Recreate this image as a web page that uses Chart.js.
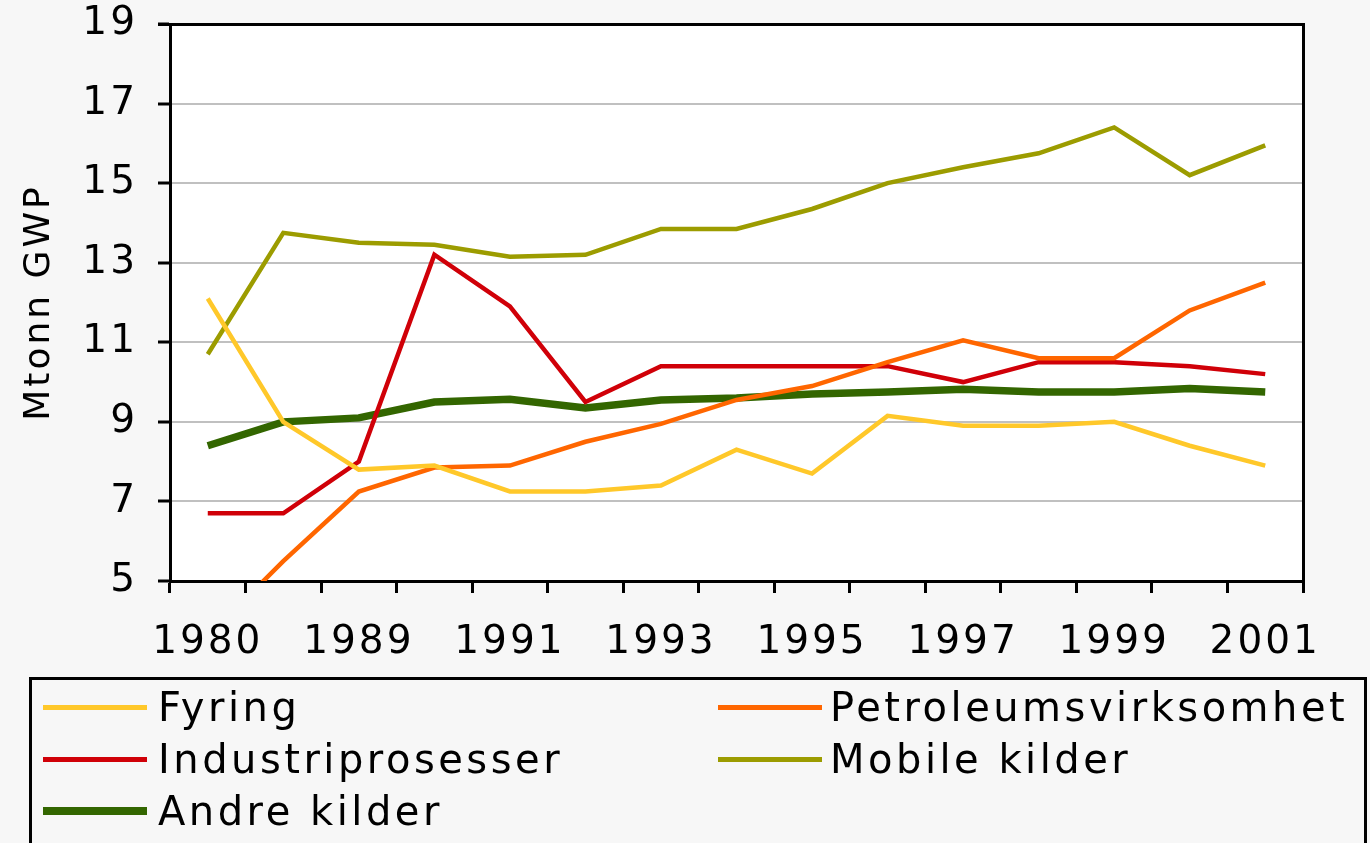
<!DOCTYPE html>
<html>
<head>
<meta charset="utf-8">
<script src="https://cdn.jsdelivr.net/npm/chart.js@4.4.0/dist/chart.umd.min.js"></script>
<style>
html,body{margin:0;padding:0;background:#f7f7f7;width:1370px;height:843px;overflow:hidden;}
#wrap{position:relative;width:1370px;height:843px;}
#c{position:absolute;left:0;top:0;}
#legendBox{position:absolute;left:29px;top:677px;width:1338px;height:200px;border:3px solid #000;box-sizing:border-box;}
.li{position:absolute;height:40px;line-height:40px;font-family:'DejaVu Sans';font-size:40px;letter-spacing:3.5px;color:#000;white-space:nowrap;}
.ls{position:absolute;}
</style>
</head>
<body>
<div id="wrap">
<canvas id="c" width="1370" height="843"></canvas>
<div id="legendBox"></div>
</div>
<script>
// ---- data ----
const years = ['1980','1987','1989','1990','1991','1992','1993','1994','1995','1996','1997','1998','1999','2000','2001'];
const fyring      = [12.1, 9.0, 7.8, 7.9, 7.25, 7.25, 7.4, 8.3, 7.7, 9.15, 8.9, 8.9, 9.0, 8.4, 7.9];
const petroleum   = [3.6, 5.5, 7.25, 7.85, 7.9, 8.5, 8.95, 9.55, 9.9, 10.5, 11.05, 10.6, 10.6, 11.8, 12.5];
const industri    = [6.7, 6.7, 8.0, 13.2, 11.9, 9.5, 10.4, 10.4, 10.4, 10.4, 10.0, 10.5, 10.5, 10.4, 10.2];
const mobile      = [10.7, 13.75, 13.5, 13.45, 13.15, 13.2, 13.85, 13.85, 14.35, 15.0, 15.4, 15.75, 16.4, 15.2, 15.95];
const andre       = [8.4, 9.0, 9.1, 9.5, 9.57, 9.35, 9.55, 9.6, 9.7, 9.75, 9.82, 9.75, 9.75, 9.84, 9.75];
const seriesNames = ['Fyring','Petroleumsvirksomhet','Industriprosesser','Mobile kilder','Andre kilder'];
const yTitle = 'Mtonn GWP';
const yMin = 5, yMax = 19, yStep = 2;

Chart.defaults.font.family = 'DejaVu Sans';
Chart.defaults.color = '#000';

const spacingPlugin = {
  id: 'spacing',
  beforeUpdate(chart){ chart.ctx.letterSpacing = '3px'; },
  beforeDraw(chart){
    const ctx = chart.ctx, a = chart.chartArea;
    ctx.letterSpacing = '3px';
    ctx.save();
    ctx.fillStyle = '#ffffff';
    ctx.fillRect(a.left, a.top, a.right - a.left, a.bottom - a.top);
    ctx.restore();
  },
  afterDraw(chart){
    const ctx = chart.ctx, a = chart.chartArea;
    ctx.save();
    ctx.strokeStyle = '#000';
    ctx.lineWidth = 3;
    ctx.beginPath();
    ctx.moveTo(a.left - 12, a.top + 0.5);
    ctx.lineTo(a.right + 0.5, a.top + 0.5);
    ctx.lineTo(a.right + 0.5, a.bottom);
    ctx.stroke();
    ctx.restore();
  }
};

const colors = ['#FFC82A','#FF6600','#D00008','#9C9C00','#336600'];
const widths = [4.5,4.5,4.5,4.5,7.5];
const values = [fyring, petroleum, industri, mobile, andre];

const chart = new Chart(document.getElementById('c'), {
  type: 'line',
  data: {
    labels: years,
    datasets: values.map((v,i)=>({
      label: seriesNames[i],
      data: v,
      borderColor: colors[i],
      backgroundColor: colors[i],
      borderWidth: widths[i],
      pointRadius: 0,
      tension: 0,
      fill: false
    }))
  },
  options: {
    responsive: false,
    animation: false,
    devicePixelRatio: 1,
    layout: { padding: { left: 0, right: 67, top: 24, bottom: 166 } },
    plugins: { legend: { display: false }, tooltip: { enabled: false } },
    scales: {
      x: {
        offset: true,
        grid: { offset: true, drawOnChartArea: false, drawTicks: true, tickLength: 12, tickColor: '#000', lineWidth: 3, color: '#000' },
        border: { display: true, color: '#000', width: 3 },
        ticks: {
          autoSkip: false, maxRotation: 0, minRotation: 0, padding: 26,
          font: { size: 39 }, color: '#000',
          callback: function(val, idx){ return idx % 2 === 0 ? this.getLabelForValue(val) : ''; }
        },
        afterFit(s){ s.height = 96; s.paddingLeft = 0; s.paddingRight = 0; }
      },
      y: {
        min: yMin, max: yMax,
        grid: { color: '#c0c0c0', lineWidth: 2, tickColor: '#000', tickWidth: 3, tickLength: 12 },
        border: { display: true, color: '#000', width: 3 },
        ticks: { stepSize: yStep, padding: 20, font: { size: 39 }, color: '#000' },
        title: { display: true, text: yTitle, font: { size: 36 }, color: '#000', padding: { top: 18, bottom: 0 } },
        afterFit(s){ s.width = 170; s.paddingTop = 0; s.paddingBottom = 0; }
      }
    }
  },
  plugins: [spacingPlugin]
});

// ---- HTML legend built from the datasets ----
const wrap = document.getElementById('wrap');
const colX = [[43,158],[718,830]];
const rowY = [707,759,811];
chart.data.datasets.forEach((ds,i)=>{
  const col = i % 2, row = Math.floor(i/2);
  const sw = document.createElement('div');
  sw.className = 'ls';
  const h = Math.round(ds.borderWidth + 0.5);
  sw.style.cssText = `left:${colX[col][0]}px;top:${Math.round(rowY[row]-h/2)}px;width:104px;height:${h}px;background:${ds.borderColor};`;
  wrap.appendChild(sw);
  const t = document.createElement('div');
  t.className = 'li';
  t.style.left = colX[col][1] + 'px';
  t.style.top = (rowY[row] - 20) + 'px';
  t.textContent = ds.label;
  wrap.appendChild(t);
});
</script>
</body>
</html>
